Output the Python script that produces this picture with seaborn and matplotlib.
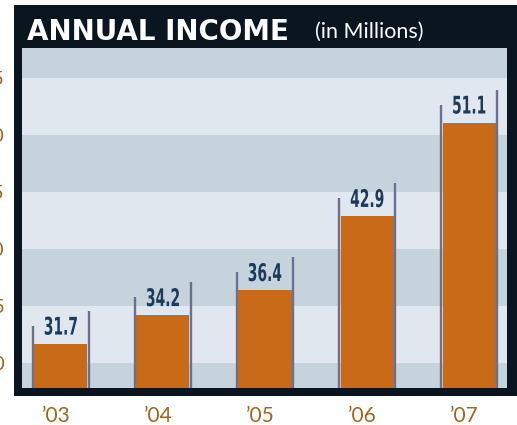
import matplotlib
matplotlib.use("Agg")
import matplotlib.pyplot as plt
import matplotlib.patches as mpatches
from matplotlib.textpath import TextPath
from matplotlib.font_manager import FontProperties
from matplotlib.transforms import Affine2D, IdentityTransform, ScaledTranslation
import seaborn as sns
import pandas as pd

# data
years = ["\u201903", "\u201904", "\u201905", "\u201906", "\u201907"]
income = [31.7, 34.2, 36.4, 42.9, 51.1]
yticks = [30, 35, 40, 45, 50, 55]
ytick_labels = ["30", "35", "40", "45", "50", "55"]

df = pd.DataFrame({"year": years, "income": income})

sns.set_theme(style="white")
plt.rcParams["font.family"] = ["Lato", "DejaVu Sans"]

DPI = 100
fig = plt.figure(figsize=(5.17, 4.25), dpi=DPI)
fig.patch.set_facecolor("white")

# dark frame behind the plot
frame = mpatches.Rectangle((14 / 517, 1 - 396 / 425), 1 - 14 / 517, (396 - 5) / 425,
                           transform=fig.transFigure, facecolor="#0b1520",
                           edgecolor="none", zorder=-1)
fig.patches.append(frame)

ax = fig.add_axes([22 / 517, 1 - 388 / 425, (507 - 22) / 517, (388 - 48) / 425])
ax.set_zorder(1)
ax.set_facecolor("#c5d3dc")

ybot, ytop = 27.83, 57.67

# light bands
for lo in [30, 40, 50]:
    ax.axhspan(lo, lo + 5, color="#e0e7ee", zorder=0, lw=0)

w = 0.52
sns.barplot(data=df, x="year", y="income", color="#c96a18", width=w,
            saturation=1, linewidth=0, edgecolor="none", ax=ax, zorder=2)
ax.set_xlim(-0.38, 4.37)
ax.set_ylim(ybot, ytop)

# condensed bold value labels (text squeezed horizontally)
fp = FontProperties(family="DejaVu Sans", weight="bold")
k = DPI / 72.0
for i, v in enumerate(income):
    ax.vlines(i - w / 2 - 0.012, ybot, v + 1.6, color="#6b7090", lw=1.7, zorder=3)
    ax.vlines(i + w / 2 + 0.012, ybot, v + 2.9, color="#6b7090", lw=1.7, zorder=3)
    tp = TextPath((0, 0), f"{v:.1f}", size=17.5, prop=fp)
    bb = tp.get_extents()
    px, py = ax.transData.transform((i, v))
    tr = (Affine2D().translate(-(bb.x0 + bb.width / 2), -bb.y0)
          .scale(0.57 * k, k).translate(px, py + 9))
    patch = mpatches.PathPatch(tr.transform_path(tp), facecolor="#1b3a5c",
                               edgecolor="none", transform=IdentityTransform(),
                               zorder=5)
    fig.patches.append(patch)

for s in ax.spines.values():
    s.set_visible(False)

ax.set_yticks(yticks)
ax.set_yticklabels(ytick_labels)
ax.tick_params(axis="y", length=0, pad=12.5, labelsize=14, labelcolor="#a0651e")
ax.tick_params(axis="x", length=0, pad=13, labelsize=15, labelcolor="#a0651e")
ax.set_xlabel("")
ax.set_ylabel("")
shift = ScaledTranslation(-5 / DPI, 0, fig.dpi_scale_trans)
for lbl in ax.get_xticklabels():
    lbl.set_transform(lbl.get_transform() + shift)

# header
fig.text(27 / 517, 1 - 39.5 / 425, "ANNUAL INCOME", color="white", fontsize=20,
         fontweight="bold", family=["DejaVu Sans"], va="baseline", ha="left")
fig.text(315 / 517, 1 - 38 / 425, "(in Millions)", color="white", fontsize=15.5,
         va="baseline", ha="left")

fig.savefig("out.png", dpi=DPI)
